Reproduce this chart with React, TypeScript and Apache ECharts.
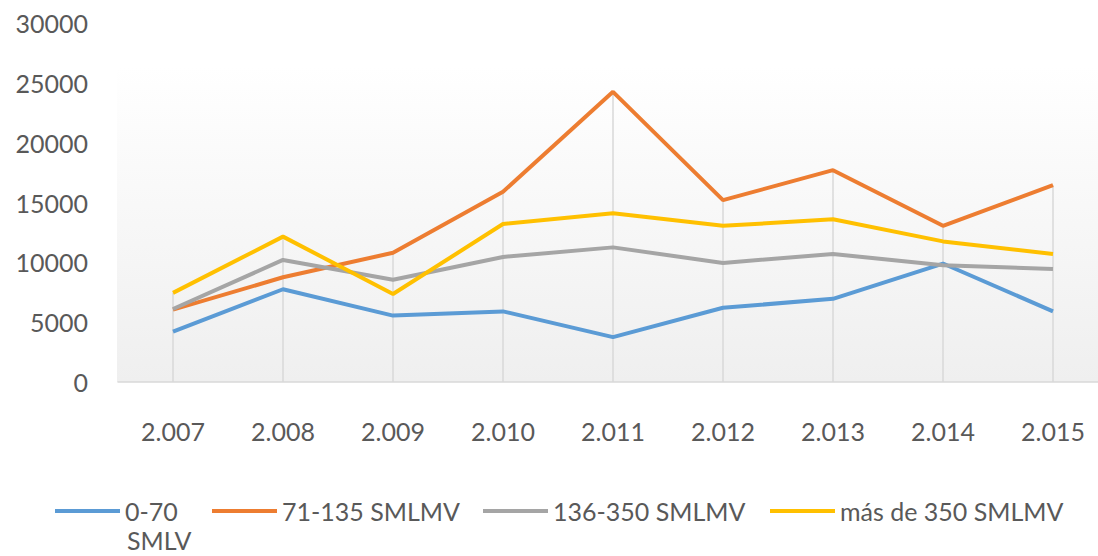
import React, { useEffect, useRef } from "react";
import * as echarts from "echarts";

const years = ["2.007", "2.008", "2.009", "2.010", "2.011", "2.012", "2.013", "2.014", "2.015"];
const s0_70 = [4200, 7750, 5550, 5900, 3750, 6200, 6950, 9900, 5900];
const s71_135 = [6050, 8750, 10800, 15900, 24250, 15200, 17700, 13050, 16450];
const s136_350 = [6100, 10200, 8550, 10450, 11250, 9950, 10700, 9750, 9450];
const sMas350 = [7450, 12150, 7350, 13200, 14100, 13050, 13600, 11750, 10700];
const yTicks = { min: 0, max: 30000, interval: 5000 };

const names = ["0-70 SMLV", "71-135 SMLMV", "136-350 SMLMV", "más de 350 SMLMV"];
const colors = ["#5b9bd5", "#ed7d31", "#a5a5a5", "#ffc000"];
const allSeries = [s0_70, s71_135, s136_350, sMas350];

const FONT = "Lato, 'Open Sans', sans-serif";
const TXT = "#595959";

export default function App() {
  const ref = useRef<HTMLDivElement>(null);
  useEffect(() => {
    if (!ref.current) return;
    const chart = echarts.init(ref.current, null, { renderer: "svg" });
    const maxVals = years.map((_, i) => Math.max(...allSeries.map((s) => s[i])));
    const legendLefts = [55, 212, 483, 770];
    chart.setOption({
      animation: false,
      backgroundColor: "#ffffff",
      textStyle: { fontFamily: FONT },
      grid: { left: 118, top: 23, right: 0, height: 359, containLabel: false },
      graphic: [
        {
          type: "rect",
          z: -10,
          silent: true,
          shape: { x: 117, y: 67, width: 991, height: 315 },
          style: {
            fill: new echarts.graphic.LinearGradient(0, 0, 0, 1, [
              { offset: 0, color: "#ffffff" },
              { offset: 1, color: "#efefef" },
            ]),
          },
        },
        {
          type: "text",
          x: 127,
          y: 540,
          style: {
            text: "SMLV",
            font: `25px ${FONT}`,
            fill: TXT,
            verticalAlign: "middle",
          },
        },
      ],
      legend: names.map((n, i) => ({
        data: [n],
        left: legendLefts[i],
        top: 496,
        padding: 0,
        icon: "rect",
        itemWidth: 65,
        itemHeight: 4,
        selectedMode: false,
        formatter: i === 0 ? () => "0-70" : undefined,
        textStyle: { fontFamily: FONT, fontSize: 25, color: TXT, lineHeight: 30 },
      })),
      xAxis: {
        type: "category",
        data: years,
        boundaryGap: true,
        axisLine: { show: true, lineStyle: { color: "#d9d9d9", width: 1.5 } },
        axisTick: { show: false },
        splitLine: { show: false },
        axisLabel: { color: TXT, fontSize: 25, fontFamily: FONT, margin: 36 },
      },
      yAxis: {
        type: "value",
        min: yTicks.min,
        max: yTicks.max,
        interval: yTicks.interval,
        axisLine: { show: false },
        axisTick: { show: false },
        splitLine: { show: false },
        axisLabel: {
          color: TXT,
          fontSize: 25,
          fontFamily: FONT,
          margin: 30,
          formatter: (v: number) => String(v),
        },
      },
      series: [
        {
          type: "bar",
          name: "drop",
          data: maxVals,
          barWidth: 1.5,
          silent: true,
          z: 1,
          itemStyle: { color: "#d9d9d9" },
        },
        ...allSeries.map((d, i) => ({
          type: "line",
          name: names[i],
          data: d,
          symbol: "none",
          z: 3 + i,
          color: colors[i],
          lineStyle: { color: colors[i], width: 4 },
          itemStyle: { color: colors[i] },
        })),
      ],
    });
    return () => chart.dispose();
  }, []);
  return (
    <div
      style={{
        position: "fixed",
        left: 0,
        top: 0,
        width: 1098,
        height: 556,
        overflow: "hidden",
        background: "#ffffff",
      }}
    >
      <div ref={ref} style={{ width: 1108, height: 556 }} />
    </div>
  );
}
